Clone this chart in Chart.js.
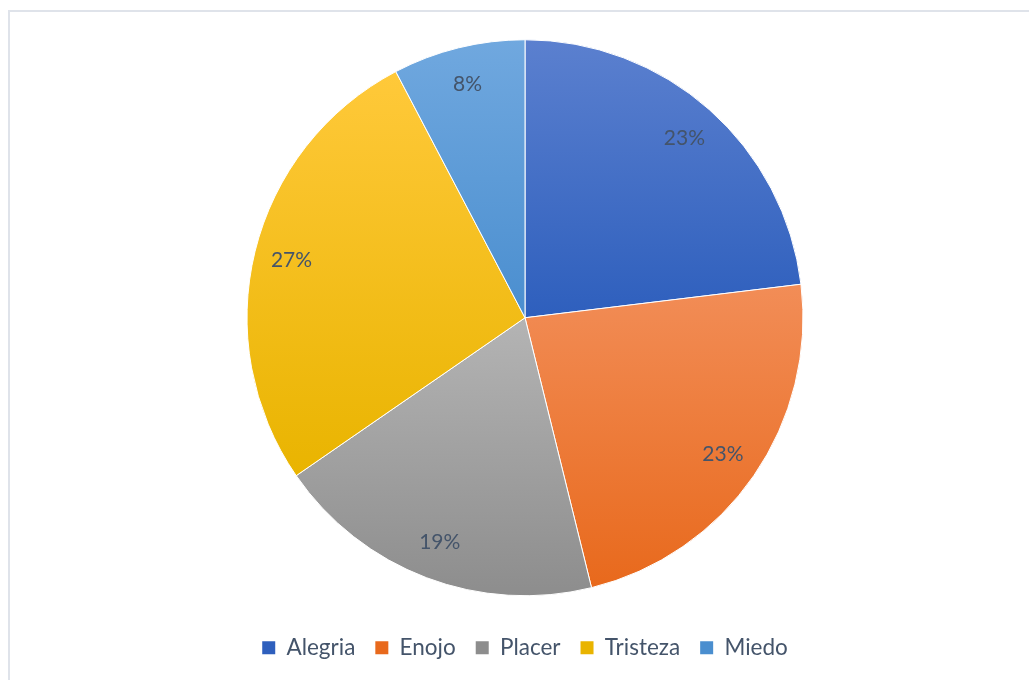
<!DOCTYPE html>
<html>
<head>
<meta charset="utf-8">
<script src="https://cdn.jsdelivr.net/npm/chart.js@4.4.1/dist/chart.umd.min.js"></script>
<style>
  html, body { margin: 0; padding: 0; background: #fff; overflow: hidden; }
  #frame { position: absolute; left: 8px; top: 10px; width: 1100px; height: 800px;
           border: 2px solid #dfe3ea; box-sizing: border-box; }
  #wrap { position: absolute; left: 0; top: 0; width: 1029px; height: 680px; }
</style>
</head>
<body>
<div id="frame"></div>
<div id="wrap"><canvas id="c" width="1029" height="680"></canvas></div>
<script>
// Emotion responses (counts per category)
const categories = ['Alegria', 'Enojo', 'Placer', 'Tristeza', 'Miedo'];
const counts = [6, 6, 5, 7, 2];
// Gradient stops per slice: light top, darker bottom
const topColors = ['#5b80cf', '#f28d57', '#b4b4b4', '#ffc93a', '#70a8df'];
const bottomColors = ['#2e5fbd', '#e8691c', '#8d8d8d', '#e9b400', '#4a8ecf'];

const RADIUS = 278;
const total = counts.reduce((a, b) => a + b, 0);

// vertical extent of a sector (angles measured clockwise from the top)
function sectorYRange(cy, r, a0, a1) {
  const ys = [cy, cy - r * Math.cos(a0), cy - r * Math.cos(a1)];
  for (let k = -2; k <= 4; k++) {
    const a = k * Math.PI;
    if (a > a0 && a < a1) ys.push(cy - r * Math.cos(a));
  }
  return [Math.min(...ys), Math.max(...ys)];
}

function sliceFill(ctx) {
  const chart = ctx.chart;
  const i = ctx.dataIndex;
  const area = chart.chartArea;
  if (!area || i === undefined) return topColors[i] || '#999';
  const cy = (area.top + area.bottom) / 2;
  let before = 0;
  for (let k = 0; k < i; k++) before += counts[k];
  const a0 = before / total * 2 * Math.PI;
  const a1 = (before + counts[i]) / total * 2 * Math.PI;
  const [y0, y1] = sectorYRange(cy, RADIUS, a0, a1);
  const g = chart.ctx.createLinearGradient(0, y0, 0, y1);
  g.addColorStop(0, topColors[i]);
  g.addColorStop(1, bottomColors[i]);
  return g;
}

// percentage labels inside each slice
const pctLabels = {
  id: 'pctLabels',
  afterDatasetsDraw(chart) {
    const c = chart.ctx;
    const meta = chart.getDatasetMeta(0);
    c.save();
    c.font = '21px Lato, "Open Sans", sans-serif';
    c.fillStyle = '#44546a';
    c.textAlign = 'center';
    c.textBaseline = 'middle';
    meta.data.forEach((arc, i) => {
      const mid = (arc.startAngle + arc.endAngle) / 2;
      const r = arc.outerRadius * 0.865;
      const x = arc.x + Math.cos(mid) * r;
      const y = arc.y + Math.sin(mid) * r;
      c.fillText(Math.round(counts[i] / total * 100) + '%', x, y);
    });
    c.restore();
  }
};

new Chart(document.getElementById('c'), {
  type: 'pie',
  data: {
    labels: categories,
    datasets: [{
      data: counts,
      backgroundColor: sliceFill,
      borderColor: '#ffffff',
      borderWidth: 1,
      radius: RADIUS
    }]
  },
  options: {
    responsive: false,
    animation: false,
    layout: { padding: { top: 19, bottom: 11, left: 21, right: 0 } },
    plugins: {
      tooltip: { enabled: false },
      legend: {
        position: 'bottom',
        labels: {
          boxWidth: 13,
          boxHeight: 13,
          padding: 20,
          color: '#44546a',
          font: { family: 'Lato, "Open Sans", sans-serif', size: 22.5 },
          generateLabels(chart) {
            return categories.map((name, i) => ({
              text: name,
              fillStyle: bottomColors[i],
              strokeStyle: bottomColors[i],
              lineWidth: 0,
              fontColor: '#44546a',
              hidden: false,
              index: i
            }));
          }
        }
      }
    }
  },
  plugins: [pctLabels]
});
</script>
</body>
</html>
